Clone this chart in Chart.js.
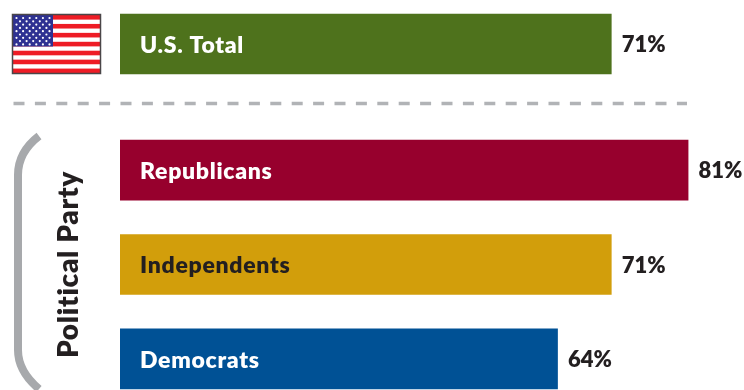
<!DOCTYPE html>
<html lang="en">

<head>
    <meta charset="UTF-8">
    <title>U.S. Total and Political Party</title>
    <script src="https://cdn.jsdelivr.net/npm/chart.js"></script>
    <style>
        body {
            margin: 0;
            background-color: #ffffff;
        }

        #page {
            position: relative;
            width: 744px;
            height: 390px;
            overflow: hidden;
        }

        #page canvas,
        #page svg {
            position: absolute;
            left: 0;
        }
    </style>
</head>

<body>
    <div id="page">
        <svg id="decor" width="744" height="390" style="top:0"></svg>
        <canvas id="totalChart" width="744" height="94" style="top:-3px"></canvas>
        <canvas id="partyChart" width="744" height="283" style="top:123px"></canvas>
    </div>

    <script>
        const totalLabels = ['U.S. Total'];
        const totalValues = [71];
        const totalColors = ['#4e721c'];
        const totalTextColors = ['#ffffff'];

        const partyLabels = ['Republicans', 'Independents', 'Democrats'];
        const partyValues = [81, 71, 64];
        const partyColors = ['#97002d', '#d29e0b', '#005195'];
        const partyTextColors = ['#ffffff', '#231f20', '#ffffff'];
        const partyTitle = 'Political Party';

        const fontFamily = 'Lato, sans-serif';

        // Percent figure just past the end of each bar; axis text gets a little tracking
        const valueLabels = {
            id: 'valueLabels',
            beforeDraw(chart) {
                chart.ctx.letterSpacing = '0.7px';
            },
            afterDatasetsDraw(chart) {
                const ctx = chart.ctx;
                const meta = chart.getDatasetMeta(0);
                ctx.save();
                ctx.letterSpacing = '0px';
                ctx.font = '800 22px ' + fontFamily;
                ctx.fillStyle = '#231f20';
                ctx.textBaseline = 'middle';
                meta.data.forEach(function (bar, i) {
                    ctx.fillText(chart.data.datasets[0].data[i] + '%', bar.x + 10.5, bar.y + 1);
                });
                ctx.restore();
            }
        };

        function drawBars(id, labels, values, colors, textColors, title) {
            return new Chart(document.getElementById(id), {
                type: 'bar',
                data: {
                    labels: labels,
                    datasets: [{
                        data: values,
                        backgroundColor: colors,
                        barThickness: 60
                    }]
                },
                plugins: [valueLabels],
                options: {
                    indexAxis: 'y',
                    responsive: false,
                    animation: false,
                    layout: { padding: 0 },
                    plugins: {
                        legend: { display: false },
                        tooltip: { enabled: false }
                    },
                    scales: {
                        x: {
                            display: false,
                            min: 7.03,
                            max: 88.28
                        },
                        y: {
                            // fixed gutter on the left, and no extra room for the mirrored labels
                            afterFit: function (scale) {
                                scale.width = 120;
                                scale.paddingTop = 0;
                                scale.paddingBottom = 0;
                            },
                            grid: { display: false },
                            border: { display: false },
                            title: {
                                display: !!title,
                                text: title,
                                color: '#231f20',
                                font: { family: fontFamily, size: 28, weight: '800' },
                                padding: { top: 52, bottom: 0 }
                            },
                            ticks: {
                                mirror: true,
                                z: 1,
                                padding: 20,
                                labelOffset: 1.5,
                                autoSkip: false,
                                color: function (context) {
                                    return textColors[context.index];
                                },
                                font: { family: fontFamily, size: 23, weight: '800' }
                            }
                        }
                    }
                }
            });
        }

        drawBars('totalChart', totalLabels, totalValues, totalColors, totalTextColors, '');
        drawBars('partyChart', partyLabels, partyValues, partyColors, partyTextColors, partyTitle);

        // Flag, dashed divider and the bracket beside the party group
        function flagMarkup() {
            let s = '<rect x="12.5" y="14.5" width="88" height="59" fill="#ffffff"/>';
            for (let i = 0; i < 7; i++) {
                s += '<rect x="13" y="' + (15 + i * 8.93) + '" width="87" height="4.6" fill="#ee1c25"/>';
            }
            s += '<rect x="13" y="15" width="40" height="31.5" fill="#2e3192"/>';
            for (let row = 0; row < 9; row++) {
                const count = row % 2 ? 5 : 6;
                const start = row % 2 ? 20 : 16.5;
                for (let col = 0; col < count; col++) {
                    s += '<circle cx="' + (start + col * 6.6) + '" cy="' + (18 + row * 3.3) + '" r="1.1" fill="#ffffff"/>';
                }
            }
            s += '<rect x="12.5" y="14.5" width="88" height="59" fill="none" stroke="#4a4648" stroke-width="1.5"/>';
            return s;
        }

        document.getElementById('decor').innerHTML = flagMarkup() +
            '<line x1="13.5" y1="103.5" x2="687" y2="103.5" stroke="#b1b3b6" stroke-width="3.5" stroke-dasharray="11 10.4"/>' +
            '<path d="M39 136 C26 146 18 158 18 175 L18 350 C18 366 26 378 39 389" fill="none" stroke="#a7a9ac" stroke-width="8"/>';
    </script>
</body>

</html>
